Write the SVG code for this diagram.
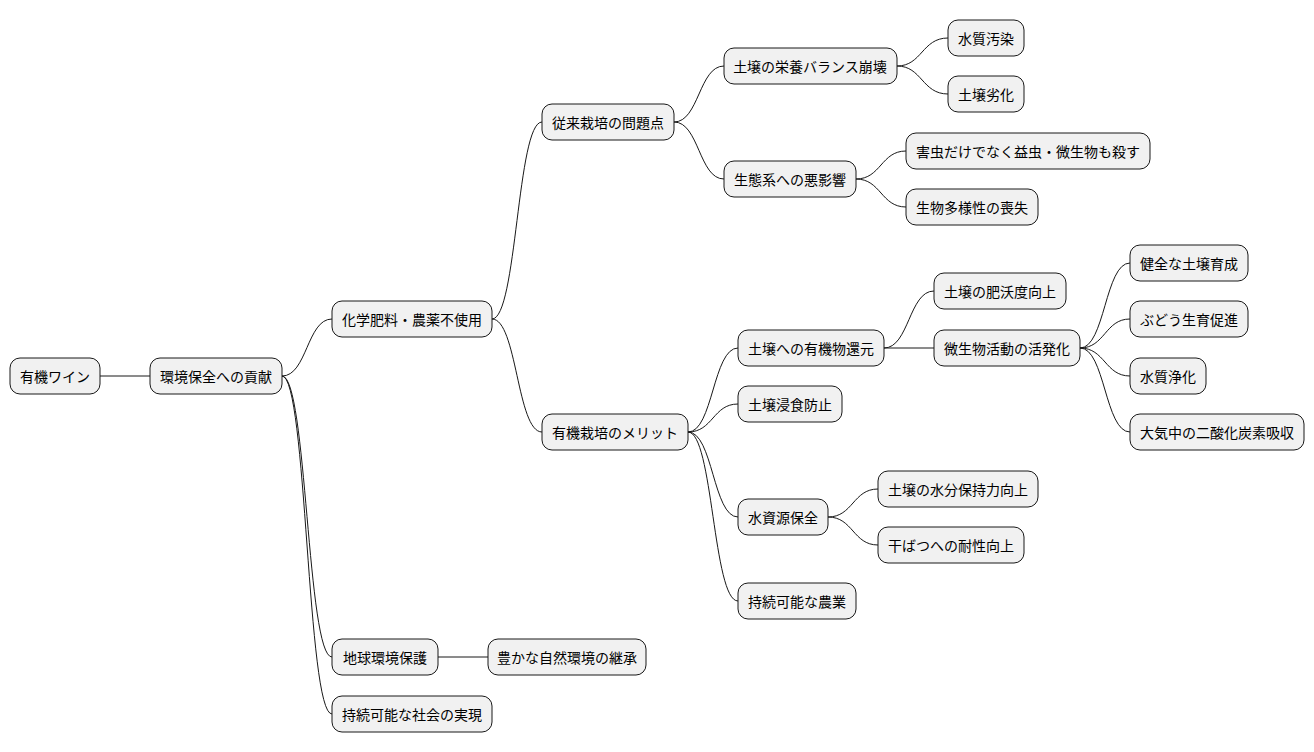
<svg xmlns="http://www.w3.org/2000/svg" width="1314" height="752" viewBox="0 0 1314 752">
<style>
rect{fill:#F1F1F1;stroke:#181818;stroke-width:1}
text{font-family:"Noto Sans CJK JP","Liberation Sans",sans-serif;font-size:14px;fill:#000;text-anchor:middle;dominant-baseline:central}
#edges path{fill:none;stroke:#181818;stroke-width:1}
</style>
<rect x="0" y="0" width="1314" height="752" style="fill:#fff;stroke:none"/>
<g id="edges">
<path d="M100,376 L150,376"/>
<path d="M282,376 C307,376 307,319 332,319"/>
<path d="M282,376 C307,376 307,657 332,657"/>
<path d="M282,376 C307,376 307,714 332,714"/>
<path d="M492,319 C517,319 517,122 542,122"/>
<path d="M492,319 C517,319 517,432 542,432"/>
<path d="M674,122 C699,122 699,66 724,66"/>
<path d="M674,122 C699,122 699,179 724,179"/>
<path d="M897,66 C922,66 922,38 948,38"/>
<path d="M897,66 C922,66 922,94 948,94"/>
<path d="M856,179 C881,179 881,151 906,151"/>
<path d="M856,179 C881,179 881,207 906,207"/>
<path d="M688,432 C713,432 713,348 738,348"/>
<path d="M688,432 C713,432 713,404 738,404"/>
<path d="M688,432 C713,432 713,517 738,517"/>
<path d="M688,432 C713,432 713,601 738,601"/>
<path d="M884,348 C909,348 909,291 934,291"/>
<path d="M884,348 L934,348"/>
<path d="M1080,348 C1105,348 1105,263 1130,263"/>
<path d="M1080,348 C1105,348 1105,319 1130,319"/>
<path d="M1080,348 C1105,348 1105,376 1130,376"/>
<path d="M1080,348 C1105,348 1105,432 1130,432"/>
<path d="M828,517 C853,517 853,489 878,489"/>
<path d="M828,517 C853,517 853,545 878,545"/>
<path d="M438,657 L488,657"/>
</g>
<g id="n1"><rect x="10" y="358" width="90" height="36" rx="10"/><text x="55" y="376">有機ワイン</text></g>
<g id="n2"><rect x="150" y="358" width="132" height="36" rx="10"/><text x="216" y="376">環境保全への貢献</text></g>
<g id="n3"><rect x="332" y="301" width="160" height="36" rx="10"/><text x="412" y="319">化学肥料・農薬不使用</text></g>
<g id="n4"><rect x="542" y="104" width="132" height="36" rx="10"/><text x="608" y="122">従来栽培の問題点</text></g>
<g id="n5"><rect x="724" y="48" width="173" height="36" rx="10"/><text x="810" y="66">土壌の栄養バランス崩壊</text></g>
<g id="n6"><rect x="948" y="20" width="76" height="36" rx="10"/><text x="986" y="38">水質汚染</text></g>
<g id="n7"><rect x="948" y="76" width="76" height="36" rx="10"/><text x="986" y="94">土壌劣化</text></g>
<g id="n8"><rect x="724" y="161" width="132" height="36" rx="10"/><text x="790" y="179">生態系への悪影響</text></g>
<g id="n9"><rect x="906" y="133" width="244" height="36" rx="10"/><text x="1028" y="151">害虫だけでなく益虫・微生物も殺す</text></g>
<g id="n10"><rect x="906" y="189" width="132" height="36" rx="10"/><text x="972" y="207">生物多様性の喪失</text></g>
<g id="n11"><rect x="542" y="414" width="146" height="36" rx="10"/><text x="615" y="432">有機栽培のメリット</text></g>
<g id="n12"><rect x="738" y="330" width="146" height="36" rx="10"/><text x="811" y="348">土壌への有機物還元</text></g>
<g id="n13"><rect x="934" y="273" width="132" height="36" rx="10"/><text x="1000" y="291">土壌の肥沃度向上</text></g>
<g id="n14"><rect x="934" y="330" width="146" height="36" rx="10"/><text x="1007" y="348">微生物活動の活発化</text></g>
<g id="n15"><rect x="1130" y="245" width="118" height="36" rx="10"/><text x="1189" y="263">健全な土壌育成</text></g>
<g id="n16"><rect x="1130" y="301" width="118" height="36" rx="10"/><text x="1189" y="319">ぶどう生育促進</text></g>
<g id="n17"><rect x="1130" y="358" width="76" height="36" rx="10"/><text x="1168" y="376">水質浄化</text></g>
<g id="n18"><rect x="1130" y="414" width="174" height="36" rx="10"/><text x="1217" y="432">大気中の二酸化炭素吸収</text></g>
<g id="n19"><rect x="738" y="386" width="104" height="36" rx="10"/><text x="790" y="404">土壌浸食防止</text></g>
<g id="n20"><rect x="738" y="499" width="90" height="36" rx="10"/><text x="783" y="517">水資源保全</text></g>
<g id="n21"><rect x="878" y="471" width="160" height="36" rx="10"/><text x="958" y="489">土壌の水分保持力向上</text></g>
<g id="n22"><rect x="878" y="527" width="146" height="36" rx="10"/><text x="951" y="545">干ばつへの耐性向上</text></g>
<g id="n23"><rect x="738" y="583" width="118" height="36" rx="10"/><text x="797" y="601">持続可能な農業</text></g>
<g id="n24"><rect x="332" y="639" width="106" height="36" rx="10"/><text x="385" y="657">地球環境保護</text></g>
<g id="n25"><rect x="488" y="639" width="158" height="36" rx="10"/><text x="567" y="657">豊かな自然環境の継承</text></g>
<g id="n26"><rect x="332" y="696" width="160" height="36" rx="10"/><text x="412" y="714">持続可能な社会の実現</text></g>
</svg>
